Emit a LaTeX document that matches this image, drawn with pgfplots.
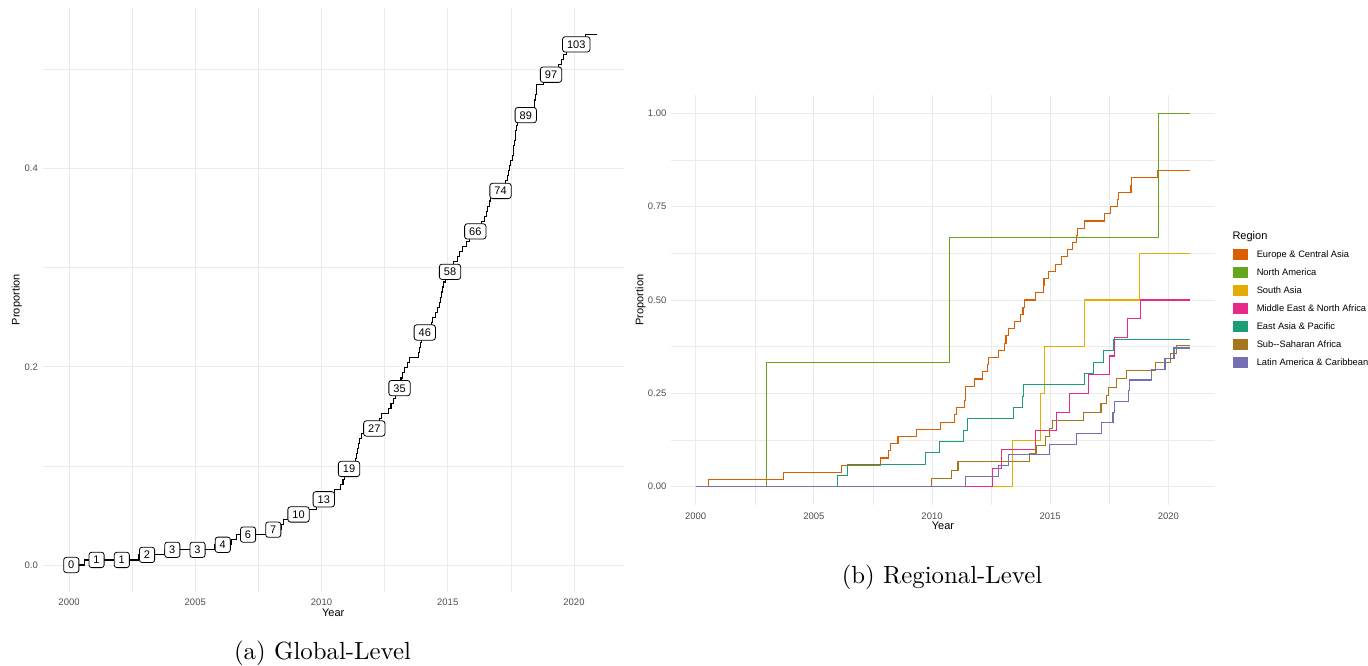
\documentclass[border=0pt]{standalone}
\usepackage{fontspec}
\usepackage{pgfplots}
\pgfplotsset{compat=1.18}
\newfontfamily\arial{Liberation Sans}
\newfontfamily\capfont{lmroman10-regular.otf}
\definecolor{gridc}{HTML}{EBEBEB}
\definecolor{ticktxt}{HTML}{4D4D4D}
\definecolor{cEur}{HTML}{D95F02}
\definecolor{cNA}{HTML}{66A61E}
\definecolor{cSA}{HTML}{E6AB02}
\definecolor{cME}{HTML}{E7298A}
\definecolor{cEA}{HTML}{1B9E77}
\definecolor{cSS}{HTML}{A6761D}
\definecolor{cLA}{HTML}{7570B3}
\pgfplotsset{
  ggmin/.style={
    scale only axis,
    anchor=south west,
    axis line style={draw=none},
    major tick length=0pt, minor tick length=0pt,
    tick style={draw=none},
    grid=both,
    major grid style={color=gridc, line width=0.7pt},
    minor grid style={color=gridc, line width=0.45pt},
    xtick={2000,2005,2010,2015,2020},
    xticklabels={2000,2005,2010,2015,2020},
    minor xtick={2002.5,2007.5,2012.5,2017.5},
    ticklabel style={font=\arial\fontsize{7.1}{8}\selectfont, text=ticktxt},
    xticklabel style={yshift=-2pt},
    label style={font=\arial\fontsize{8.25}{10}\selectfont, text=black},
    xlabel={Year}, ylabel={Proportion},
    xmin=1998.9535, xmax=2021.9765,
  }
}
\begin{document}
\begin{tikzpicture}
\useasboundingbox (0pt,0pt) rectangle (1026pt,498.75pt);
% ---------------- (a) Global-Level
\begin{axis}[ggmin, at={(31.95pt,55.1pt)}, width=435.97pt, height=437.85pt,
  ymin=-0.02679, ymax=0.5625,
  ytick={0,0.2,0.4}, yticklabels={0.0,0.2,0.4}, minor ytick={0.1,0.3,0.5},
  xlabel style={at={(axis description cs:0.5,-0.0363)}, anchor=center},
  ylabel style={at={(axis description cs:-0.0446,0.5)}, anchor=center},
]
\addplot[const plot, mark=none, black, line width=0.85pt] table {
x y
2000.00 0
2000.60 .00510
2002.75 .01020
2003.80 .01531
2005.75 .02041
2006.45 .02551
2006.65 .03061
2007.90 .03571
2008.40 .04082
2008.50 .04592
2008.70 .05102
2009.45 .05612
2009.80 .06122
2009.90 .06633
2010.30 .07143
2010.50 .07653
2010.75 .08163
2010.85 .08673
2010.90 .09184
2011.00 .09694
2011.20 .10204
2011.35 .10714
2011.40 .11224
2011.42 .11735
2011.45 .12245
2011.50 .12755
2011.58 .13265
2011.75 .13776
2012.20 .14286
2012.30 .14796
2012.38 .15306
2012.65 .15816
2012.75 .16327
2012.85 .16837
2012.92 .17347
2013.00 .17857
2013.10 .18367
2013.15 .18878
2013.22 .19388
2013.30 .19898
2013.40 .20408
2013.48 .20918
2013.85 .21429
2013.88 .21939
2013.92 .22449
2013.96 .22959
2014.00 .23469
2014.30 .23980
2014.35 .24490
2014.40 .25000
2014.50 .25510
2014.60 .26020
2014.68 .26531
2014.72 .27041
2014.76 .27551
2014.80 .28061
2014.84 .28571
2014.90 .29082
2014.98 .29592
2015.15 .30102
2015.22 .30612
2015.40 .31122
2015.48 .31633
2015.60 .32143
2015.75 .32653
2015.85 .33163
2015.95 .33673
2016.25 .34184
2016.33 .34694
2016.45 .35204
2016.52 .35714
2016.58 .36224
2016.64 .36735
2016.70 .37245
2016.80 .37755
2017.20 .38265
2017.30 .38776
2017.35 .39286
2017.40 .39796
2017.45 .40306
2017.50 .40816
2017.55 .41327
2017.60 .41837
2017.62 .42347
2017.65 .42857
2017.68 .43367
2017.70 .43878
2017.73 .44388
2017.76 .44898
2017.80 .45408
2018.40 .45918
2018.42 .46429
2018.45 .46939
2018.47 .47449
2018.50 .47959
2018.53 .48469
2018.80 .48980
2018.90 .49490
2019.30 .50000
2019.40 .50510
2019.50 .51020
2019.60 .51531
2019.70 .52041
2019.80 .52551
2020.30 .53061
2020.45 .53571
2020.93 .53571
};
\addplot[only marks, mark=none, nodes near coords, point meta=explicit symbolic,
  nodes near coords style={anchor=center, draw=black, fill=white, rounded corners=2pt,
    line width=0.6pt, font=\arial\fontsize{8.25}{9}\selectfont, text=black,
    inner xsep=3.4pt, inner ysep=2.8pt, text height=5.9pt, text depth=0pt}]
  table[meta=lab] {
x y lab
2000.09 0 0
2001.09 .00510 1
2002.09 .00510 1
2003.09 .01020 2
2004.09 .01531 3
2005.09 .01531 3
2006.09 .02041 4
2007.09 .03061 6
2008.09 .03571 7
2009.09 .05102 10
2010.09 .06633 13
2011.09 .09694 19
2012.09 .13776 27
2013.09 .17857 35
2014.09 .23469 46
2015.09 .29592 58
2016.09 .33673 66
2017.09 .37755 74
2018.09 .45408 89
2019.09 .49490 97
2020.09 .52551 103
};
\end{axis}
% ---------------- (b) Regional-Level
\begin{axis}[ggmin, at={(503.25pt,119.7pt)}, width=408pt, height=308.1pt,
  ymin=-0.05, ymax=1.05,
  ytick={0,0.25,0.5,0.75,1}, yticklabels={0.00,0.25,0.50,0.75,1.00},
  minor ytick={0.125,0.375,0.625,0.875},
  xlabel style={at={(axis description cs:0.5,-0.0501)}, anchor=center},
  ylabel style={at={(axis description cs:-0.0561,0.5)}, anchor=center},
  legend style={at={(1.0336,0.6327)}, anchor=north west, draw=none, fill=none,
    inner sep=0pt, outer sep=0pt, row sep=0pt,
    font=\arial\fontsize{7}{8}\selectfont,
    nodes={inner sep=0pt, text height=9.25pt, text depth=4.25pt},
    /tikz/every odd column/.append style={column sep=6.3pt}},
  legend cell align=left,
  legend image code/.code={\fill (0pt,-3.5pt) rectangle (10.5pt,3.5pt);},
  every axis plot/.append style={const plot, mark=none, line width=0.8pt},
]
\addplot[color=cEur] table {
x y
2000.00 0
2000.56 0.01923
2003.70 0.03846
2006.17 0.05769
2007.83 0.07692
2008.15 0.09615
2008.25 0.11538
2008.56 0.13462
2009.34 0.15385
2010.34 0.17308
2010.95 0.19231
2011.04 0.21154
2011.36 0.23077
2011.40 0.25000
2011.43 0.26923
2011.78 0.28846
2012.13 0.30769
2012.33 0.32692
2012.38 0.34615
2012.82 0.36538
2013.05 0.38462
2013.13 0.40385
2013.23 0.42308
2013.51 0.44231
2013.75 0.46154
2013.85 0.48077
2013.91 0.50000
2014.36 0.51923
2014.70 0.53846
2014.74 0.55769
2014.92 0.57692
2015.21 0.59615
2015.49 0.61538
2015.73 0.63462
2015.95 0.65385
2016.10 0.67308
2016.15 0.69231
2016.47 0.71154
2017.28 0.73077
2017.56 0.75000
2017.85 0.76923
2017.89 0.78846
2018.42 0.80769
2018.45 0.82692
2019.54 0.84615
2020.93 0.84615
};
\addlegendentry{Europe \& Central Asia}
\addplot[color=cNA] table {
x y
2000.00 0
2003.00 0.33333
2010.73 0.66667
2019.60 1.00000
2020.93 1.00000
};
\addlegendentry{North America}
\addplot[color=cSA] table {
x y
2000.00 0
2013.41 0.125
2014.58 0.250
2014.77 0.375
2016.47 0.500
2018.77 0.625
2020.93 0.625
};
\addlegendentry{South Asia}
\addplot[color=cME] table {
x y
2000.00 0
2012.57 0.05
2012.95 0.10
2014.36 0.15
2015.25 0.20
2015.80 0.25
2016.62 0.30
2017.53 0.35
2017.72 0.40
2018.27 0.45
2018.83 0.50
2020.93 0.50
};
\addlegendentry{Middle East \& North Africa}
\addplot[color=cEA] table {
x y
2000.00 0
2005.99 0.03030
2006.42 0.06061
2009.73 0.09091
2010.31 0.12121
2011.35 0.15152
2011.52 0.18182
2013.44 0.21212
2013.84 0.24242
2013.88 0.27273
2016.47 0.30303
2016.83 0.33333
2017.25 0.36364
2017.67 0.39394
2020.93 0.39394
};
\addlegendentry{East Asia \& Pacific}
\addplot[color=cSS] table {
x y
2000.00 0
2009.99 0.02222
2010.83 0.04444
2011.10 0.06667
2014.12 0.08889
2014.40 0.11111
2014.82 0.13333
2014.99 0.15556
2015.11 0.17778
2016.40 0.20000
2017.15 0.22222
2017.39 0.24444
2017.46 0.26667
2017.82 0.28889
2018.24 0.31111
2019.44 0.33333
2020.10 0.35556
2020.36 0.37778
2020.93 0.37778
};
\addlegendentry{Sub--Saharan Africa}
\addplot[color=cLA] table {
x y
2000.00 0
2011.43 0.02857
2012.81 0.05714
2013.23 0.08571
2014.96 0.11429
2016.12 0.14286
2017.18 0.17143
2017.66 0.20000
2017.74 0.22857
2018.31 0.25714
2018.35 0.28571
2019.30 0.31429
2019.86 0.34286
2020.24 0.37143
2020.93 0.37143
};
\addlegendentry{Latin America \& Caribbean}
\end{axis}
\node[anchor=base west, font=\arial\fontsize{8.25}{10}\selectfont, inner sep=0pt] at (924.2pt,319.1pt) {Region};
\node[font=\capfont\fontsize{18.6}{22}\selectfont] at (241.9pt,9pt) {(a) Global-Level};
\node[font=\capfont\fontsize{18.6}{22}\selectfont] at (706.5pt,66pt) {(b) Regional-Level};
\end{tikzpicture}
\end{document}
